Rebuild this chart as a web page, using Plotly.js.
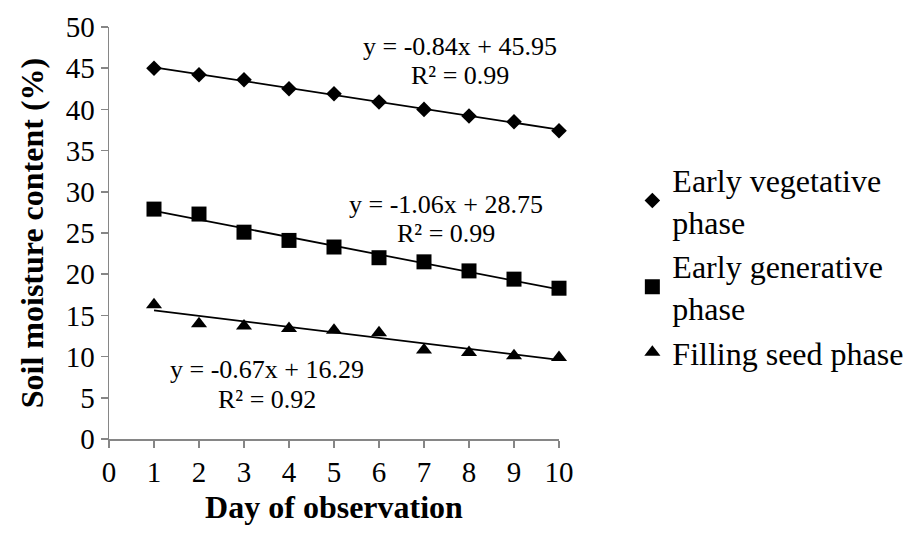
<!DOCTYPE html>
<html>
<head>
<meta charset="utf-8">
<script src="https://cdn.plot.ly/plotly-3.0.1.min.js"></script>
<style>
html,body{margin:0;padding:0;background:#fff;}
#chart{width:908px;height:536px;}
</style>
</head>
<body>
<div id="chart"></div>
<script>
// ---- data ----
const days = [1, 2, 3, 4, 5, 6, 7, 8, 9, 10];
const earlyVegetative = [45.0, 44.2, 43.6, 42.5, 41.9, 40.9, 40.0, 39.2, 38.5, 37.4];
const earlyGenerative = [27.9, 27.3, 25.1, 24.1, 23.3, 22.0, 21.5, 20.4, 19.4, 18.3];
const fillingSeed = [16.3, 14.0, 13.7, 13.4, 13.2, 12.9, 10.8, 10.5, 10.1, 9.9];
const seriesNames = ["Early vegetative<br>phase", "Early generative<br>phase", "Filling seed phase"];
const trendSlopes = [-0.84, -1.06, -0.67];
const trendIntercepts = [45.95, 28.75, 16.29];
const trendR2 = ["0.99", "0.99", "0.92"];
const xTickVals = [0, 1, 2, 3, 4, 5, 6, 7, 8, 9, 10];
const yTickVals = [0, 5, 10, 15, 20, 25, 30, 35, 40, 45, 50];

const FONT = '"Liberation Serif", "Times New Roman", Times, serif';
const seriesY = [earlyVegetative, earlyGenerative, fillingSeed];
const symbols = ["diamond", "square", "triangle-up"];
const sizes = [12, 15, 14];

const traces = [];
seriesY.forEach((ys, i) => {
  traces.push({
    x: days, y: ys, type: "scatter", mode: "markers", name: seriesNames[i],
    marker: {symbol: symbols[i], size: sizes[i], color: "#000000"},
    cliponaxis: false
  });
});
seriesY.forEach((ys, i) => {
  const xs = [days[0], days[days.length - 1]];
  traces.push({
    x: xs, y: xs.map(x => trendSlopes[i] * x + trendIntercepts[i]),
    type: "scatter", mode: "lines", showlegend: false, hoverinfo: "skip",
    line: {color: "#000000", width: 1.75}
  });
});

function eqText(i) {
  return "y = " + trendSlopes[i].toFixed(2) + "x + " + trendIntercepts[i].toFixed(2);
}
const annPos = [
  {x: 7.79, y1: 47.6, y2: 44.1},
  {x: 7.48, y1: 28.4, y2: 25.0},
  {x: 3.52, y1: 8.4, y2: 4.8}
];
const annotations = [];
annPos.forEach((p, i) => {
  annotations.push({x: p.x, y: p.y1, xref: "x", yref: "y", text: eqText(i), showarrow: false,
    xanchor: "center", yanchor: "middle", font: {family: FONT, size: 26, color: "#000"}});
  annotations.push({x: p.x, y: p.y2, xref: "x", yref: "y", text: "R² = " + trendR2[i], showarrow: false,
    xanchor: "center", yanchor: "middle", font: {family: FONT, size: 26, color: "#000"}});
});

const layout = {
  width: 908, height: 536,
  margin: {l: 109, r: 349, t: 27, b: 97, autoexpand: false},
  paper_bgcolor: "#fff", plot_bgcolor: "#fff",
  font: {family: FONT, size: 26, color: "#000"},
  showlegend: true,
  legend: {x: 1.163, xanchor: "left", y: 0.42, yanchor: "middle",
    font: {family: FONT, size: 32, color: "#000"}, tracegroupgap: 4, bgcolor: "rgba(0,0,0,0)"},
  xaxis: {
    range: [0, 10], tickvals: xTickVals, ticktext: xTickVals.map(String),
    showgrid: false, zeroline: false, showline: true, linecolor: "#868686", linewidth: 1.5,
    ticks: "outside", ticklen: 7, tickwidth: 1.5, tickcolor: "#868686",
    tickfont: {family: FONT, size: 29, color: "#000"}, automargin: false,
    title: {text: "<b>Day of observation</b>", font: {family: FONT, size: 32, color: "#000"}, standoff: 8}
  },
  yaxis: {
    range: [0, 50], tickvals: yTickVals, ticktext: yTickVals.map(String),
    showgrid: false, zeroline: false, showline: true, linecolor: "#868686", linewidth: 1.5,
    ticks: "outside", ticklen: 7, tickwidth: 1.5, tickcolor: "#868686",
    tickfont: {family: FONT, size: 29, color: "#000"}, automargin: false,
    title: {text: "<b>Soil moisture content (%)</b>", font: {family: FONT, size: 32, color: "#000"}, standoff: 12}
  },
  annotations: annotations
};

Plotly.newPlot("chart", traces, layout, {staticPlot: true, displayModeBar: false});
</script>
</body>
</html>
